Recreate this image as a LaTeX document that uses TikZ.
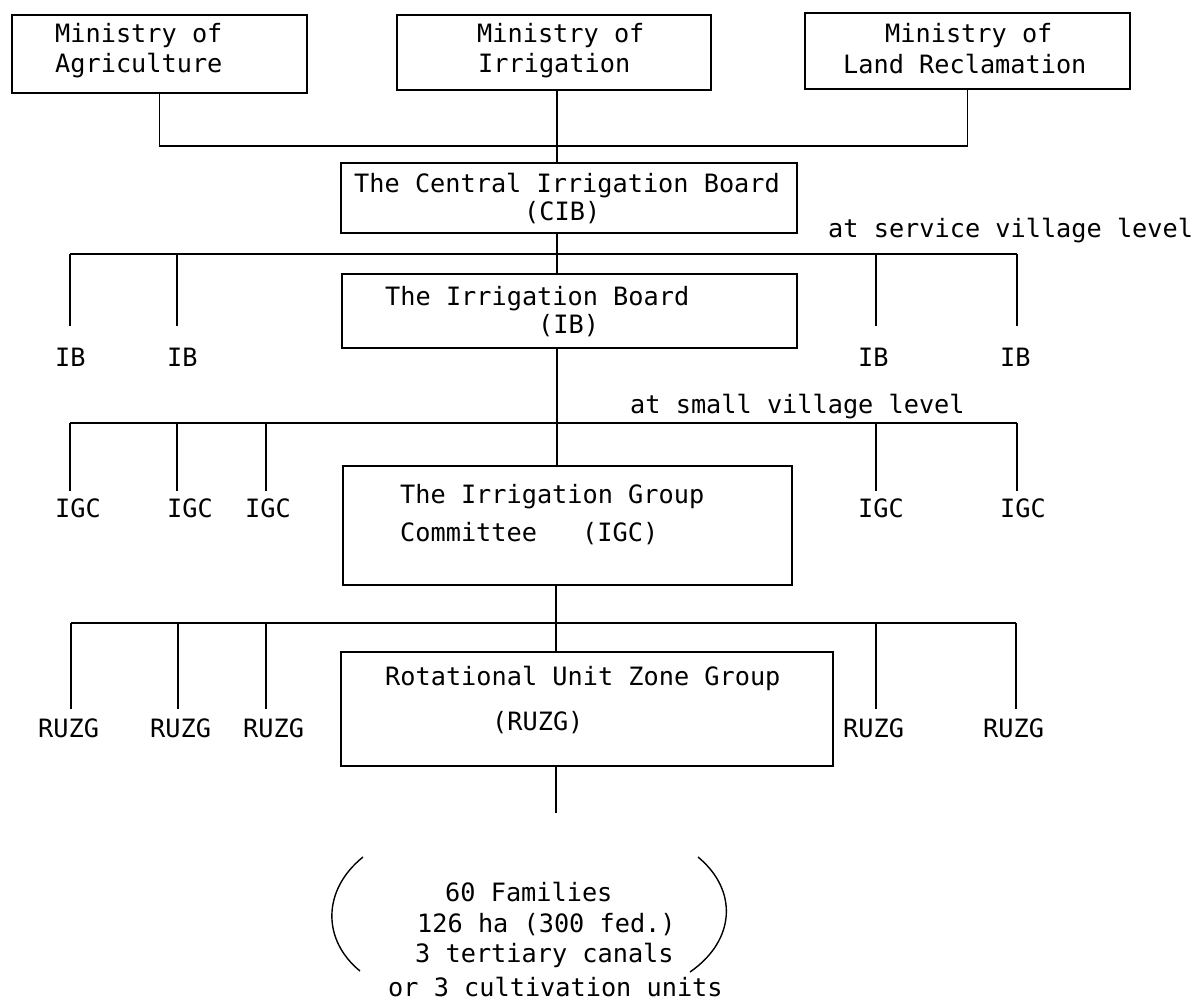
\documentclass[tikz,border=0pt]{standalone}
\usepackage{fontspec}
\newfontfamily\tw{DejaVu Sans Mono}
\begin{document}
\begin{tikzpicture}[x=1pt,y=-1pt,
  box/.style={draw, line width=2.2pt, inner sep=0pt},
  conn/.style={line width=1.6pt},
  paren/.style={line width=1.4pt},
  txt/.style={anchor=base west, inner sep=0pt, font=\tw\fontsize{25.25}{30}\selectfont}]
\fill[white] (0,0) rectangle (1196,1005);
\useasboundingbox (0,0) rectangle (1196,1005);

% boxes
\node[box, minimum width=295pt, minimum height=78pt] (agr) at (159.5,54) {};
\node[box, minimum width=314pt, minimum height=75pt] (irr) at (554,52.5) {};
\node[box, minimum width=325pt, minimum height=76pt] (land) at (967.5,51) {};
\node[box, minimum width=456pt, minimum height=70pt] (cib) at (569,198) {};
\node[box, minimum width=455pt, minimum height=74pt] (ib) at (569.5,311) {};
\node[box, minimum width=449pt, minimum height=119pt] (igc) at (567.5,525.5) {};
\node[box, minimum width=492pt, minimum height=114pt] (ruzg) at (587,709) {};

% box texts
\node[txt] (agr1) at (55,42) {Ministry of};
\node[txt] (agr2) at (55,72) {Agriculture};
\node[txt] (irr1) at (477,42) {Ministry of};
\node[txt] (irr2) at (478,72) {Irrigation};
\node[txt] (land1) at (885,42) {Ministry of};
\node[txt] (land2) at (843,73) {Land Reclamation};
\node[txt] (cib1) at (354,192) {The Central Irrigation Board};
\node[txt] (cib2) at (524,220) {(CIB)};
\node[txt] (ib1) at (385,305) {The Irrigation Board};
\node[txt] (ib2) at (538,333) {(IB)};
\node[txt] (igc1) at (400,503) {The Irrigation Group};
\node[txt] (igc2) at (400,541) {Committee};
\node[txt] (igc3) at (582,541) {(IGC)};
\node[txt] (ruzg1) at (385,685) {Rotational Unit Zone Group};
\node[txt] (ruzg2) at (492,730) {(RUZG)};

% level texts
\node[txt] (svl) at (828,237) {at service village level};
\node[txt] (sml) at (630,413) {at small village level};

% junctions
\coordinate (j1) at (557,146);
\coordinate (s0) at (70,254);
\coordinate (s1) at (1017,254);
\coordinate (m0) at (70,423);
\coordinate (m1) at (1017,423);
\coordinate (r0) at (71,623);
\coordinate (r1) at (1016,623);
\coordinate (j2) at (556,623);
\coordinate (fam) at (556,813);

% top connectors
\draw[conn] (agr.south) |- (j1) -| (land.south);
\draw[conn] (irr.south -| j1) -- (cib.north -| j1);

% service village level
\draw[conn] (s0) -- (s1);
\draw[conn] (cib.south -| j1) -- (ib.north -| j1);
\foreach \x/\n in {70/a,177/b,876/c,1017/d}{
  \coordinate (sd\n) at (\x,326);
  \draw[conn] (sd\n |- s0) -- (sd\n);
}
\node[txt] (iba) at (55,366) {IB};
\node[txt] (ibb) at (167,366) {IB};
\node[txt] (ibc) at (858,366) {IB};
\node[txt] (ibd) at (1000,366) {IB};

% small village level
\draw[conn] (m0) -- (m1);
\draw[conn] (ib.south -| j1) -- (igc.north -| j1);
\foreach \x/\n in {70/a,177/b,266/c,876/d,1017/e}{
  \coordinate (md\n) at (\x,491);
  \draw[conn] (md\n |- m0) -- (md\n);
}
\node[txt] (igca) at (55,517) {IGC};
\node[txt] (igcb) at (167,517) {IGC};
\node[txt] (igcc) at (245,517) {IGC};
\node[txt] (igcd) at (858,517) {IGC};
\node[txt] (igce) at (1000,517) {IGC};

% rotational unit level
\draw[conn] (r0) -- (r1);
\draw[conn] (igc.south -| j2) -- (ruzg.north -| j2);
\foreach \x/\n in {71/a,178/b,266/c,876/d,1016/e}{
  \coordinate (rd\n) at (\x,709);
  \draw[conn] (rd\n |- r0) -- (rd\n);
}
\node[txt] (ruzga) at (38,737) {RUZG};
\node[txt] (ruzgb) at (150,737) {RUZG};
\node[txt] (ruzgc) at (243,737) {RUZG};
\node[txt] (ruzgd) at (843,737) {RUZG};
\node[txt] (ruzge) at (983,737) {RUZG};

% families
\draw[conn] (ruzg.south -| j2) -- (fam);
\draw[paren] (363,857) .. controls (322,890) and (322,940) .. (360,971);
\draw[paren] (698,857) .. controls (738,890) and (736,940) .. (690,972);
\node[txt] (f1) at (445,901) {60 Families};
\node[txt] (f2) at (417,932) {126 ha (300 fed.)};
\node[txt] (f3) at (415,962) {3 tertiary canals};
\node[txt] (f4) at (388,996) {or 3 cultivation units};
\end{tikzpicture}
\end{document}
